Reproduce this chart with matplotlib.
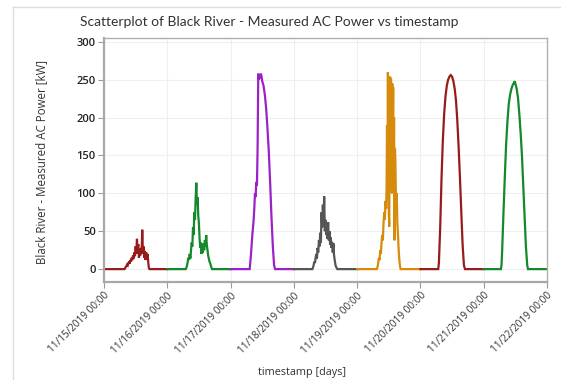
import numpy as np
import matplotlib
matplotlib.use("Agg")
import matplotlib.pyplot as plt
import matplotlib.dates as mdates
from matplotlib.lines import Line2D
import datetime as dt

plt.rcParams['font.family'] = ['Open Sans', 'DejaVu Sans']

# one segment per day, hours since midnight and measured power (kW)
days = ['2019-11-15', '2019-11-16', '2019-11-17', '2019-11-18',
        '2019-11-19', '2019-11-20', '2019-11-21']
day_colors = ['#981b1b', '#13892b', '#9b22c6', '#555555',
              '#d68b0c', '#981b1b', '#13892b']

hours_1115 = [0, 7.75, 8.0, 8.25, 8.5, 8.75, 9.0, 9.25, 9.5, 9.75, 10.0, 10.25, 10.5, 10.75,
              11.0, 11.25, 11.5, 11.75, 12.0, 12.25, 12.5, 12.75, 13.0, 13.25, 13.5, 13.75,
              14.0, 14.25, 14.5, 14.75, 15.0, 15.25, 15.5, 15.75, 16.0, 16.25, 16.5, 16.75,
              17.0, 17.25, 24]
kw_1115 = [0, 0, 1, 3, 4, 6, 5, 8, 10, 7, 12, 10, 15, 12,
           18, 14, 22, 17, 30, 20, 40, 25, 33, 15, 22, 18,
           28, 20, 52, 22, 30, 15, 24, 12, 22, 14, 20, 10,
           2, 0, 0]

hours_1116 = [0, 7.0, 7.25, 7.5, 7.75, 8.0, 8.25, 8.5, 8.75, 9.0, 9.25, 9.5, 9.75, 10.0,
              10.25, 10.5, 10.75, 11.0, 11.25, 11.5, 11.75, 12.0, 12.25, 12.5, 12.75, 13.0,
              13.25, 13.5, 13.75, 14.0, 14.25, 14.5, 14.75, 15.0, 15.25, 15.5, 15.75, 16.0,
              16.25, 16.5, 16.75, 17.0, 24]
kw_1116 = [0, 0, 2, 5, 10, 15, 12, 20, 14, 25, 35, 30, 55, 45,
           75, 65, 92, 114, 85, 95, 70, 60, 40, 28, 35, 20,
           30, 22, 34, 25, 38, 30, 45, 32, 25, 18, 14, 10,
           8, 5, 2, 0, 0]

hours_1117 = [0, 7.25, 7.75, 8.25, 8.75, 9.0, 9.25, 9.5, 9.75, 10.0, 10.25, 10.5, 10.75,
              11.0, 11.25, 11.5, 11.75, 12.0, 12.5, 13.0, 13.5, 14.0, 14.5, 15.0, 15.5,
              16.0, 16.5, 16.9, 24]
kw_1117 = [0, 0, 20, 45, 65, 80, 100, 95, 115, 110, 160, 258, 250,
           255, 252, 258, 254, 248, 242, 230, 212, 185, 155, 115, 70,
           32, 5, 0, 0]

hours_1118 = [0, 7.0, 7.25, 7.5, 7.75, 8.0, 8.25, 8.5, 8.75, 9.0, 9.25, 9.5, 9.75, 10.0,
              10.25, 10.5, 10.75, 11.0, 11.25, 11.5, 11.75, 12.0, 12.25, 12.5, 12.75, 13.0,
              13.25, 13.5, 13.75, 14.0, 14.25, 14.5, 14.75, 15.0, 15.25, 15.5, 15.75, 16.0,
              16.5, 24]
kw_1118 = [0, 0, 2, 5, 10, 8, 15, 20, 14, 28, 22, 38, 30, 48,
           35, 75, 55, 85, 60, 96, 50, 65, 45, 58, 40, 62,
           38, 50, 32, 42, 28, 36, 22, 34, 18, 12, 6, 3,
           0, 0]

hours_1119 = [0, 7.5, 7.75, 8.0, 8.25, 8.5, 8.75, 9.0, 9.25, 9.5, 9.75, 10.0, 10.25, 10.5,
              10.75, 11.0, 11.17, 11.33, 11.5, 11.67, 11.83, 12.0, 12.17, 12.33, 12.5, 12.67,
              12.83, 13.0, 13.17, 13.33, 13.5, 13.67, 13.83, 14.0, 14.17, 14.33, 14.5, 14.75,
              15.0, 15.25, 15.5, 15.75, 16.0, 16.25, 16.5, 24]
kw_1119 = [0, 0, 3, 8, 15, 12, 25, 20, 35, 45, 38, 60, 75, 65,
           90, 80, 110, 190, 95, 260, 120, 75, 56, 200, 254, 150,
           252, 230, 100, 245, 180, 240, 110, 200, 38, 160, 144, 80,
           100, 60, 45, 25, 12, 4, 0, 0]

hours_1120 = [0, 6.75, 7.0, 7.5, 8.0, 8.5, 9.0, 9.5, 10.0, 10.5, 11.0, 11.5, 12.0, 12.5,
              13.0, 13.5, 14.0, 14.5, 15.0, 15.5, 16.0, 16.5, 16.9, 24]
kw_1120 = [0, 0, 8, 55, 120, 170, 205, 228, 242, 250, 254, 256, 254, 248,
           238, 222, 195, 160, 120, 75, 32, 5, 0, 0]

hours_1121 = [0, 6.5, 6.75, 7.0, 7.5, 8.0, 8.5, 9.0, 9.5, 10.0, 10.5, 11.0, 11.5, 11.75,
              12.0, 12.5, 13.0, 13.5, 14.0, 14.5, 15.0, 15.5, 16.0, 16.5, 16.8, 24]
kw_1121 = [0, 0, 5, 25, 75, 122, 165, 195, 218, 230, 238, 243, 246, 248,
           245, 238, 226, 205, 180, 150, 110, 70, 30, 5, 0, 0]

all_hours = [hours_1115, hours_1116, hours_1117, hours_1118, hours_1119, hours_1120, hours_1121]
all_kw = [kw_1115, kw_1116, kw_1117, kw_1118, kw_1119, kw_1120, kw_1121]

tick_days = ['2019-11-15', '2019-11-16', '2019-11-17', '2019-11-18',
             '2019-11-19', '2019-11-20', '2019-11-21', '2019-11-22']
tick_labels = ['11/15/2019 00:00', '11/16/2019 00:00', '11/17/2019 00:00', '11/18/2019 00:00',
               '11/19/2019 00:00', '11/20/2019 00:00', '11/21/2019 00:00', '11/22/2019 00:00']
y_ticks = [0, 50, 100, 150, 200, 250, 300]

fig = plt.figure(figsize=(5.61, 3.80), dpi=100)
ax = fig.add_axes([104/561, 1-282/380, (547-104)/561, (282-38)/380])

for d, h, p, c in zip(days, all_hours, all_kw, day_colors):
    base = mdates.date2num(dt.datetime.strptime(d, '%Y-%m-%d'))
    x = base + np.array(h) / 24.0
    ax.plot(x, p, color=c, lw=1.6, solid_joinstyle='miter')

xt = [mdates.date2num(dt.datetime.strptime(t, '%Y-%m-%d')) for t in tick_days]
ax.set_xticks(xt)
ax.set_xticklabels(tick_labels, rotation=45, ha='right', rotation_mode='anchor',
                   fontsize=7.2, color='#333333')
ax.set_xlim(xt[0], xt[-1])
ax.set_yticks(y_ticks)
ax.set_yticklabels([str(v) for v in y_ticks], fontsize=8, color='#222222', fontweight='semibold')
ax.set_ylim(-17, 305)

ax.grid(True, color='#efefef', lw=0.8)
ax.set_axisbelow(True)
for s in ['top', 'right']:
    ax.spines[s].set_color('#b0b0b0')
    ax.spines[s].set_linewidth(1.0)
for s in ['left', 'bottom']:
    ax.spines[s].set_color('#a8a8a8')
    ax.spines[s].set_linewidth(1.6)
ax.tick_params(axis='both', length=4, width=0.8, color='#999999', pad=2)

fig.text(269/561, 1-22/380, 'Scatterplot of Black River - Measured AC Power vs timestamp',
         ha='center', va='center', fontsize=10.0, color='#333333', family=['Lato', 'DejaVu Sans'])
fig.text(42/561, 1-162/380, 'Black River - Measured AC Power [kW]', rotation=90,
         ha='center', va='center', fontsize=8.3, color='#333333')
fig.text(302/561, 1-372/380, 'timestamp [days]', ha='center', va='center',
         fontsize=7.8, color='#333333')

# outer panel border
fig.add_artist(Line2D([13/561, 13/561], [0, 1-7/380], transform=fig.transFigure,
                      color='#dddddd', lw=1))
fig.add_artist(Line2D([13/561, 1], [1-7/380, 1-7/380], transform=fig.transFigure,
                      color='#dddddd', lw=1))

fig.savefig('out.png', dpi=100)
